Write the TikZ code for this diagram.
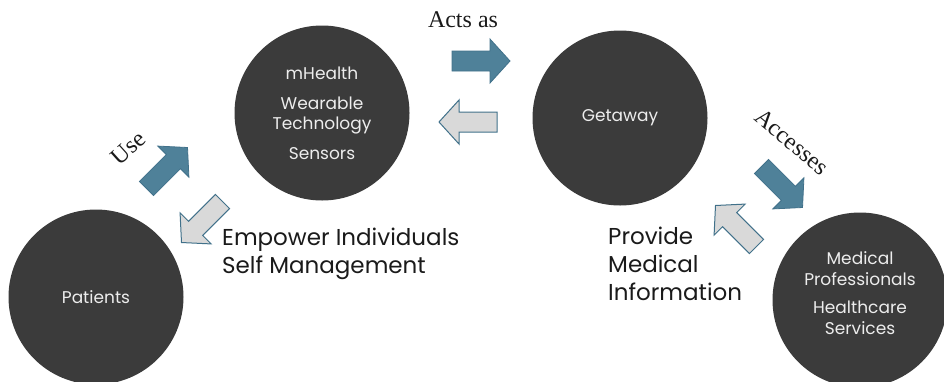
\documentclass[tikz,border=0pt]{standalone}
\usepackage{fontspec}
\setmainfont{Poppins}
\newfontfamily\serifl{Liberation Serif}
\definecolor{circ}{HTML}{3B3B3B}
\definecolor{tealf}{HTML}{4F8199}
\definecolor{teald}{HTML}{41718A}
\definecolor{grayf}{HTML}{D9D9D9}
\definecolor{ctext}{HTML}{EDEDED}
\definecolor{labtext}{HTML}{1A1A1A}
\begin{document}
\begin{tikzpicture}[x=1pt,y=-1pt,
  disc/.style={circle, fill=circ, minimum size=175pt, inner sep=0pt, text=ctext, align=center,
    font=\fontsize{17}{20}\selectfont},
  lab/.style={text=labtext, align=left, anchor=west, inner sep=0pt,
    font=\fontsize{23}{28}\selectfont},
  slab/.style={text=labtext, inner sep=0pt, font=\serifl\fontsize{24}{28}\selectfont},
  barrow/.pic={\path[pic actions] (-29,-10) -- (9,-10) -- (9,-22) -- (29,0) -- (9,22) -- (9,10) -- (-29,10) -- cycle;},
  tealarrow/.style={fill=tealf, draw=teald, line width=0.8pt},
  grayarrow/.style={fill=grayf, draw=teald, line width=1pt}
]
\useasboundingbox (0,0) rectangle (944,381);
\clip (0,0) rectangle (944,381);

% circles
\node[disc] (patients) at (96,297) {Patients};
\node[disc] (mhealth) at (322,113) {mHealth\\[10pt]Wearable\\Technology\\[10pt]Sensors};
\node[disc] (getaway) at (620,118) {Getaway};
\node[disc] (medical) at (860,300) {};
\node[text=ctext, align=center, inner sep=0pt, font=\fontsize{17}{21}\selectfont] (medtext) at (860,293)
  {Medical\\Professionals\\[7pt]Healthcare\\Services};

% block arrows
\pic[tealarrow, rotate=45] (usearrow) at (167,168) {barrow};
\pic[grayarrow, rotate=225] (empowerarrow) at (202,222) {barrow};
\pic[tealarrow, rotate=0] (actsarrow) at (481,61) {barrow};
\pic[grayarrow, rotate=180] (backarrow) at (468,122) {barrow};
\pic[tealarrow, rotate=-45] (accessarrow) at (782,187) {barrow};
\pic[grayarrow, rotate=135] (providearrow) at (736,226) {barrow};

% labels
\node[slab, rotate=42] (uselbl) at (128,148) {Use};
\node[slab, anchor=base] (actslbl) at (463,27) {Acts as};
\node[slab, rotate=-40] (acclbl) at (792,142) {Accesses};
\node[lab] (empowerlbl) at (222,254) {Empower Individuals\\Self Management};
\node[lab] (providelbl) at (608,264) {Provide\\Medical\\Information};
\end{tikzpicture}
\end{document}
